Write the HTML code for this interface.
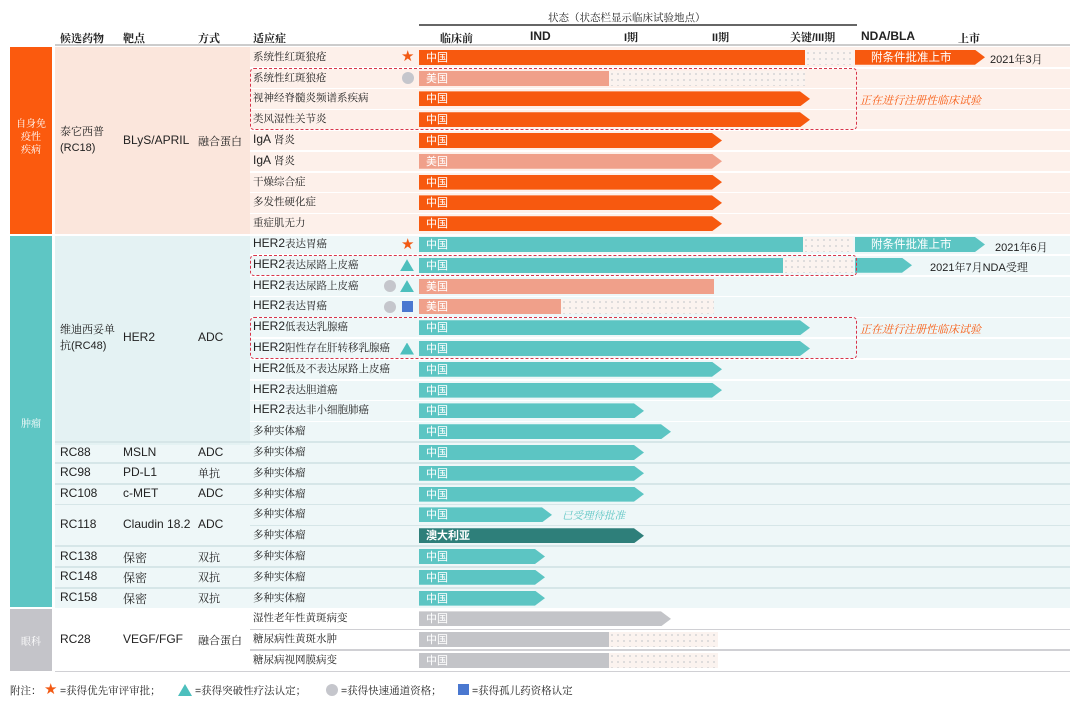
<!DOCTYPE html>
<html><head><meta charset="utf-8"><style>
*{margin:0;padding:0;box-sizing:border-box}
body{width:1080px;height:710px;background:#fff;position:relative;overflow:hidden;font-family:"Liberation Sans","Noto Serif CJK SC","Noto Sans CJK SC",sans-serif;font-size:11px;color:#222}
.a{position:absolute;white-space:nowrap}
.bar{position:absolute;height:15px;color:#fff;font-size:11px;line-height:15px;padding-left:7px;font-family:"Noto Sans CJK SC",sans-serif}
.dot{position:absolute;height:15px;background-color:#fbf3ef;background-image:radial-gradient(#d8d8d8 0.8px,transparent 1.2px);background-size:6px 6px}
.dash{position:absolute;border:1.5px dashed #d8344a;border-radius:4px}
</style></head><body>
<div id="c"></div>
<script>
const c=document.getElementById('c');let h='';
function A(x,y,t,s){h+=`<div class="a" style="left:${x}px;top:${y}px;${s||''}">${t}</div>`}
function D(x,y,w,hh,s){h+=`<div class="a" style="left:${x}px;top:${y}px;width:${w}px;height:${hh}px;${s||''}"></div>`}
const y0=57.3,rh=20.8;const ry=i=>y0+i*rh;const rb=i=>ry(i)-rh/2;
// backgrounds
D(55,47,1015,187,'background:#fdf0ea');D(55,47,195,187,'background:#fbe6dc');
D(55,236,1015,372,'background:#eef7f8');D(55,236,195,209,'background:#e4f2f3');
D(55,609,1015,62,'background:#fff');
for(let i=1;i<30;i++){if(i==9||i==27)continue;let x0=(i<9||(i>=10&&i<19))?250:55;if(i==23)x0=250;if(i==29||i==28)x0=250;
D(x0,rb(i)-0.7,1070-x0,1.5,'background:'+(i>=27?'#d0d0d4':(i>=19?'#d6e6e8':'#fff')))}
D(55,671,1015,1.2,'background:#d0d0d4');
// sidebars
D(10,47,42,187,'background:#fb5a0e');D(10,236,42,371,'background:#5ec6c4');D(10,609,42,62,'background:#c4c4c9');
A(13,118,'自身免<br>疫性<br>疾病','color:#fff;font-size:10px;line-height:13px;text-align:center;width:36px');
A(13,415,'肿瘤','color:#fff;font-size:10px;width:36px;text-align:center');
A(13,633,'眼科','color:#fff;font-size:10px;width:36px;text-align:center');
// header
D(419,24,438,1.5,'background:#666');D(55,44,1015,2,'background:#ccc');
A(548,10,'状态（状态栏显示临床试验地点）','font-size:10.5px');
A(60,30,'候选药物','font-weight:bold');A(123,30,'靶点','font-weight:bold');A(198,30,'方式','font-weight:bold');A(253,30,'适应症','font-weight:bold');
A(440,30,'临床前','font-weight:bold');A(530,29,'IND','font-weight:bold;font-size:12px');A(624,29,'I期','font-weight:bold');A(712,29,'II期','font-weight:bold');A(790,29,'关键/III期','font-weight:bold');A(861,29,'NDA/BLA','font-weight:bold;font-size:12px');A(958,30,'上市','font-weight:bold');
// drugs
A(60,124,'泰它西普<br>(RC18)','line-height:16px');A(123,133,'BLyS/APRIL','font-size:12px');A(198,133,'融合蛋白');
A(60,322,'维迪西妥单<br>抗(RC48)','line-height:16px');A(123,330,'HER2','font-size:12px');A(198,330,'ADC','font-size:12px');
const dr=[[19,'RC88','MSLN','ADC'],[20,'RC98','PD-L1','单抗'],[21,'RC108','c-MET','ADC'],[22.5,'RC118','Claudin 18.2','ADC'],[24,'RC138','保密','双抗'],[25,'RC148','保密','双抗'],[26,'RC158','保密','双抗'],[28,'RC28','VEGF/FGF','融合蛋白']];
dr.forEach(d=>{let y=ry(d[0])-8;A(60,y,d[1],'font-size:12px');A(123,y,d[2],'font-size:12px');A(198,y,d[3],/[A-Z]/.test(d[3])?'font-size:12px':'')});
const O='#f7590f',S='#f0a08a',T='#5cc5c3',G='#c3c4c8',DT='#2e7f7a';
const R=[['系统性红斑狼疮',O,'中国',805,853,0],['系统性红斑狼疮',S,'美国',609,805,0],['视神经脊髓炎频谱系疾病',O,'中国',810,0,1],['类风湿性关节炎',O,'中国',810,0,1],['IgA 肾炎',O,'中国',722,0,1],['IgA 肾炎',S,'美国',722,0,1],['干燥综合症',O,'中国',722,0,1],['多发性硬化症',O,'中国',722,0,1],['重症肌无力',O,'中国',722,0,1],
['HER2表达胃癌',T,'中国',803,853,0],['HER2表达尿路上皮癌',T,'中国',783,853,0],['HER2表达尿路上皮癌',S,'美国',714,0,0],['HER2表达胃癌',S,'美国',561,714,0],['HER2低表达乳腺癌',T,'中国',810,0,1],['HER2阳性存在肝转移乳腺癌',T,'中国',810,0,1],['HER2低及不表达尿路上皮癌',T,'中国',722,0,1],['HER2表达胆道癌',T,'中国',722,0,1],['HER2表达非小细胞肺癌',T,'中国',644,0,1],['多种实体瘤',T,'中国',671,0,1],
['多种实体瘤',T,'中国',644,0,1],['多种实体瘤',T,'中国',644,0,1],['多种实体瘤',T,'中国',644,0,1],['多种实体瘤',T,'中国',552,0,1],['多种实体瘤',DT,'澳大利亚',644,0,1],['多种实体瘤',T,'中国',545,0,1],['多种实体瘤',T,'中国',545,0,1],['多种实体瘤',T,'中国',545,0,1],
['湿性老年性黄斑病变',G,'中国',671,0,1],['糖尿病性黄斑水肿',G,'中国',609,718,0],['糖尿病视网膜病变',G,'中国',609,718,0]];
R.forEach((r,i)=>{let y=ry(i)-7.5;let lab=r[0].replace(/^(HER2|IgA)/,'<span style="font-size:12px;font-family:Liberation Sans">$1</span>');A(253,y-1,lab,'font-size:10.5px');
let w=r[3]-419-(r[5]?10:0);let clip=r[5]?`clip-path:polygon(0 0,${w}px 0,${w+10}px 50%,${w}px 100%,0 100%);width:${w+10}px`:`width:${w}px`;
if(r[4])h+=`<div class="dot" style="left:${r[3]}px;top:${y}px;width:${r[4]-r[3]}px"></div>`;
h+=`<div class="bar" style="left:419px;top:${y}px;background:${r[1]};${clip};${r[2]=='澳大利亚'?'font-weight:bold':''}">${r[2]}</div>`});
function arrowbar(x,w,y,col,t){h+=`<div class="bar" style="left:${x}px;top:${y}px;width:${w}px;background:${col};clip-path:polygon(0 0,${w-10}px 0,${w}px 50%,${w-10}px 100%,0 100%);padding-left:16px;font-size:11.5px">${t}</div>`}
arrowbar(855,130,ry(0)-7.5,O,'附条件批准上市');A(990,ry(0)-6,'2021年3月');
arrowbar(855,130,ry(9)-7.5,T,'附条件批准上市');A(995,ry(9)-6,'2021年6月');
arrowbar(855,57,ry(10)-7.5,T,'');A(930,ry(10)-6,'2021年7月NDA受理');
A(562,ry(22)-7,'已受理待批准','color:#5cc5c3;font-style:italic;font-size:10.5px');
A(860,ry(2)-7,'正在进行注册性临床试验','color:#f7590f;font-style:italic;font-size:11px');
A(860,ry(13)-7,'正在进行注册性临床试验','color:#f7590f;font-style:italic;font-size:11px');
h+=`<div class="dash" style="left:250px;top:${rb(1)}px;width:607px;height:${rh*3}px"></div>`;
h+=`<div class="dash" style="left:250px;top:${rb(10)}px;width:607px;height:${rh}px"></div>`;
h+=`<div class="dash" style="left:250px;top:${rb(13)}px;width:607px;height:${rh*2}px"></div>`;
const star=(x,y)=>A(x,y,'★','color:#f25a14;font-size:15px;line-height:15px;font-family:DejaVu Sans');
const cir=(x,y)=>D(x,y,12,12,'border-radius:50%;background:#c5c6cc');
const tri=(x,y)=>D(x,y,14,12,'background:#4cbfbd;clip-path:polygon(50% 0,100% 100%,0 100%)');
const sq=(x,y)=>D(x,y,11,11,'background:#4a78d0');
star(401,ry(0)-8);cir(402,ry(1)-6);star(401,ry(9)-8);tri(400,ry(10)-6);cir(384,ry(11)-6);tri(400,ry(11)-6);cir(384,ry(12)-6);sq(402,ry(12)-6);tri(400,ry(14)-6);
let ly=683;A(10,ly,'附注：','font-size:10.5px');star(44,ly-1);A(60,ly,'=获得优先审评审批；','font-size:10.5px');tri(178,ly+1);A(195,ly,'=获得突破性疗法认定；','font-size:10.5px');cir(326,ly+1);A(341,ly,'=获得快速通道资格；','font-size:10.5px');sq(458,ly+1);A(472,ly,'=获得孤儿药资格认定','font-size:10.5px');
c.innerHTML=h;
</script>
</body></html>
